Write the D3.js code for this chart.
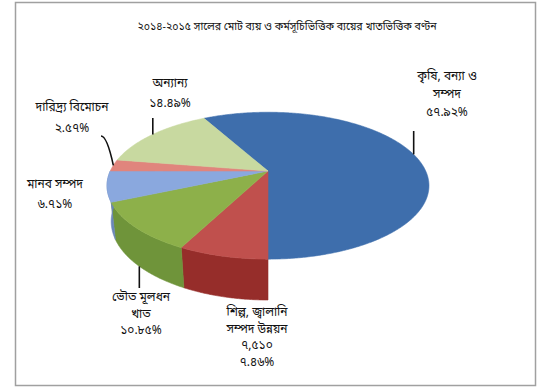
<!DOCTYPE html>
<html>
<head>
<meta charset="utf-8">
<script src="https://cdn.jsdelivr.net/npm/d3@7"></script>
<style>
  html, body { margin: 0; padding: 0; background: #ffffff; }
  svg { display: block; font-family: "Noto Sans Bengali", "Lohit Bengali", "Noto Sans", "DejaVu Sans", sans-serif; }
</style>
</head>
<body>
<svg id="chart" width="548" height="388"></svg>
<script>
// Sector shares (percent), clockwise from the large blue sector
const categories = ["কৃষি", "শিল্প", "ভৌত", "মানব", "দারিদ্র্য", "অন্যান্য"];
const values = [57.92, 7.46, 10.85, 6.71, 2.57, 14.49];
const labelLines = [
  ["কৃষি, বন্যা ও", "সম্পদ", "৫৭.৯২%"],
  ["শিল্প, জ্বালানি", "সম্পদ উন্নয়ন", "৭,৫১০", "৭.৪৬%"],
  ["ভৌত মূলধন", "খাত", "১০.৮৫%"],
  ["মানব সম্পদ", "৬.৭১%"],
  ["দারিদ্র্য বিমোচন", "২.৫৭%"],
  ["অন্যান্য", "১৪.৪৯%"]
];
const topColors = ["#3e6eac", "#c0504d", "#8db04a", "#8aa8de", "#e0857d", "#c8d9a0"];
const sideColors = ["#26436c", "#962d2a", "#6f943a", "#6a86b9", "#b25a53", "#9fb47a"];
const title = "২০১৪-২০১৫ সালের মোট ব্যয় ও কর্মসূচিভিত্তিক ব্যয়ের খাতভিত্তিক বণ্টন";

// Label placement (centre x, first line y, line spacing) and leader lines
const labelPos = [
  { x: 447, y: 77, dy: 18, leader: { rim: "top", toY: 131 } },
  { x: 257, y: 313, dy: 16.5, leader: null },
  { x: 141, y: 298, dy: 16.5, leader: { rim: "bottom", toY: 288 } },
  { x: 55, y: 185, dy: 20, leader: null },
  { x: 72, y: 108, dy: 21, leader: { rim: "top", curve: [101, 136] } },
  { x: 170, y: 84, dy: 20, leader: { rim: "top", toY: 118 } }
];

const svg = d3.select("#chart");

// frame
svg.append("rect")
  .attr("x", 15.5).attr("y", 2.5)
  .attr("width", 520).attr("height", 383)
  .attr("fill", "#ffffff")
  .attr("stroke", "#a0a0a0").attr("stroke-width", 1.5);

svg.append("text")
  .attr("x", 287).attr("y", 27)
  .attr("text-anchor", "middle").attr("dominant-baseline", "middle")
  .attr("font-size", 10.6).attr("fill", "#111")
  .text(title);

// Perspective projection of a tilted disc
const cx = 268, cy = 171;
const tilt = Math.asin(0.447);
const S = Math.sin(tilt), C = Math.cos(tilt);
const D = 4.47, K = 705, thick = 0.255;
function proj(phi, r, h) {
  const x = r * Math.sin(phi), z = -r * Math.cos(phi);
  const d = D - z * C + h * S;
  return [cx + K * x / d, cy + K * (z * S + h * C) / d];
}

const total = d3.sum(values);
const start = Math.PI - 2 * Math.PI * values[0] / total;
const pie = d3.pie().sort(null).value(d => d)
  .startAngle(start).endAngle(start + 2 * Math.PI);
const arcs = pie(values);

function arcPoints(a0, a1, h) {
  const n = Math.max(2, Math.ceil((a1 - a0) / (Math.PI / 360)));
  return d3.range(n + 1).map(i => proj(a0 + (a1 - a0) * i / n, 1, h));
}
const line = d3.line();

// sides (front half of the rim)
const visA = Math.PI / 2, visB = 3 * Math.PI / 2;
const gSide = svg.append("g");
arcs.forEach((a, i) => {
  let a0 = a.startAngle, a1 = a.endAngle;
  const shift = Math.floor(a0 / (2 * Math.PI)) * 2 * Math.PI;
  a0 -= shift; a1 -= shift;
  const lo = Math.max(a0, visA), hi = Math.min(a1, visB);
  if (hi <= lo) return;
  const top = arcPoints(lo, hi, 0);
  const bot = arcPoints(lo, hi, thick).reverse();
  gSide.append("path")
    .attr("d", line(top.concat(bot)) + "Z")
    .attr("fill", sideColors[i])
    .attr("stroke", sideColors[i]).attr("stroke-width", 0.6);
});

// top faces
const gTop = svg.append("g");
arcs.forEach((a, i) => {
  const pts = [[cx, cy]].concat(arcPoints(a.startAngle, a.endAngle, 0));
  gTop.append("path")
    .attr("d", line(pts) + "Z")
    .attr("fill", topColors[i])
    .attr("stroke", topColors[i]).attr("stroke-width", 0.6);
});

// leader lines from each sector's mid-angle rim point
const gLead = svg.append("g").attr("stroke", "#111").attr("stroke-width", 1.6).attr("fill", "none");
arcs.forEach((a, i) => {
  const L = labelPos[i].leader;
  if (!L) return;
  const mid = (a.startAngle + a.endAngle) / 2;
  const p = proj(mid, 1, L.rim === "bottom" ? thick : 0);
  if (L.curve) {
    const q = L.curve;
    gLead.append("path").attr("d", `M${q[0]},${q[1]} Q${q[0] + 6},${q[1]} ${p[0]},${p[1]}`);
  } else {
    gLead.append("line").attr("x1", p[0]).attr("y1", p[1]).attr("x2", p[0]).attr("y2", L.toY);
  }
});

// labels
const gLab = svg.append("g").attr("font-size", 12).attr("fill", "#111").attr("text-anchor", "middle");
labelLines.forEach((lines, i) => {
  const lp = labelPos[i];
  lines.forEach((t, j) => {
    gLab.append("text")
      .attr("x", lp.x).attr("y", lp.y + j * lp.dy)
      .attr("dominant-baseline", "middle")
      .text(t);
  });
});
</script>
</body>
</html>
